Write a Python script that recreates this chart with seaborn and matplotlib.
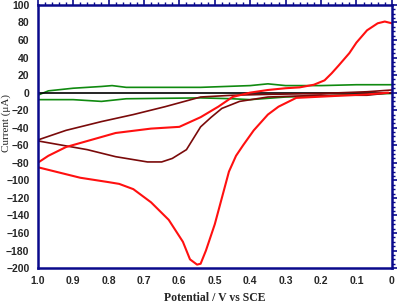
import numpy as np
import pandas as pd
import matplotlib
matplotlib.use("Agg")
import matplotlib.pyplot as plt
from matplotlib.ticker import MultipleLocator
import seaborn as sns

# potential (V vs SCE) and current (uA)
red_v = [0.0, 0.02, 0.04, 0.07, 0.10, 0.12, 0.15, 0.17, 0.19, 0.22, 0.26, 0.30, 0.35, 0.40, 0.45, 0.49, 0.54,
         0.60, 0.68, 0.78, 0.85, 0.92, 0.97, 1.0,
         1.0, 0.95, 0.88, 0.80, 0.77, 0.73, 0.68, 0.63, 0.59, 0.57, 0.55, 0.54, 0.525,
         0.50, 0.48, 0.46, 0.44, 0.42, 0.39, 0.35, 0.32, 0.27, 0.17, 0.07, 0.01]
red_i = [79, 81, 79, 71, 57, 45, 31, 22, 14, 9, 6, 5, 3, 0, -5, -16, -28,
         -39, -41, -46, -54, -62, -72, -80,
         -85, -90, -97, -102, -104, -110, -125, -145, -170, -190, -196, -195, -180,
         -150, -120, -90, -72, -60, -43, -25, -16, -6, -4, -2, 0]

maroon_v = [0.0, 0.07, 0.20, 0.35, 0.45, 0.54, 0.64, 0.73, 0.82, 0.92, 1.0,
            1.0, 0.93, 0.86, 0.78, 0.69, 0.65, 0.62, 0.58, 0.56, 0.54, 0.51, 0.48, 0.43,
            0.35, 0.20, 0.07, 0.0]
maroon_i = [3, 1, -1, -2, -3, -5, -16, -25, -33, -43, -54,
            -55, -60, -65, -73, -79, -79, -75, -65, -52, -39, -28, -18, -10,
            -5, -3, -3, 0]

green_v = [0.0, 0.10, 0.20, 0.30, 0.35, 0.40, 0.54, 0.70, 0.75, 0.79, 0.82, 0.90, 0.97, 1.0,
           1.0, 0.95, 0.90, 0.82, 0.75, 0.54, 0.45, 0.40, 0.30, 0.20, 0.10, 0.0]
green_i = [9, 9, 8, 8, 10, 8, 6, 6, 6, 8, 7, 5, 2, -3,
           -8, -8, -8, -10, -7, -6, -7, -8, -5, -4, -2, -1]

black_v = [1.0, 0.8, 0.6, 0.4, 0.2, 0.0]
black_i = [0, 0, 0, 0, 0, 0]

navy = "#0a0a8c"

sns.set_style("white")
fig = plt.figure(figsize=(3.97, 3.04), dpi=100)
ax = fig.add_axes([0.095, 0.118, 0.892, 0.866])

kw = dict(sort=False, estimator=None, ax=ax)
sns.lineplot(x=green_v, y=green_i, color="#108a10", lw=1.2, **kw)
sns.lineplot(x=black_v, y=black_i, color="black", lw=1.2, **kw)
sns.lineplot(x=maroon_v, y=maroon_i, color="#7a0a0a", lw=1.2, **kw)
sns.lineplot(x=red_v, y=red_i, color="#ff1010", lw=1.5, **kw)

ax.set_xlim(1.0, 0.0)
ax.set_ylim(-200, 100)
ax.xaxis.set_minor_locator(MultipleLocator(0.02))
ax.yaxis.set_major_locator(MultipleLocator(20))
ax.yaxis.set_minor_locator(MultipleLocator(5))
ax.set_xticks(np.arange(0, 1.01, 0.1))
ax.set_xticklabels(["0", "0.1", "0.2", "0.3", "0.4", "0.5", "0.6", "0.7", "0.8", "0.9", "1.0"])

for s in ax.spines.values():
    s.set_color(navy)
    s.set_linewidth(1.8)
ax.tick_params(which="both", direction="out", color=navy, top=True, right=True,
               labeltop=False, labelright=False)
ax.tick_params(which="major", length=4, width=1.2, pad=2)
ax.tick_params(which="minor", length=2.5, width=1.0)
for lab in ax.get_xticklabels() + ax.get_yticklabels():
    lab.set_fontfamily("Liberation Sans")
    lab.set_fontweight("bold")
    lab.set_fontsize(7.5)

ax.set_xlabel("Potential / V vs SCE", fontfamily="Liberation Serif", fontweight="bold",
              fontsize=8.5, labelpad=4)
ax.set_ylabel("Current (μA)", fontfamily="Liberation Serif", fontsize=8)
ax.yaxis.set_label_coords(-0.076, 0.55)

fig.savefig("out.png", dpi=100)
